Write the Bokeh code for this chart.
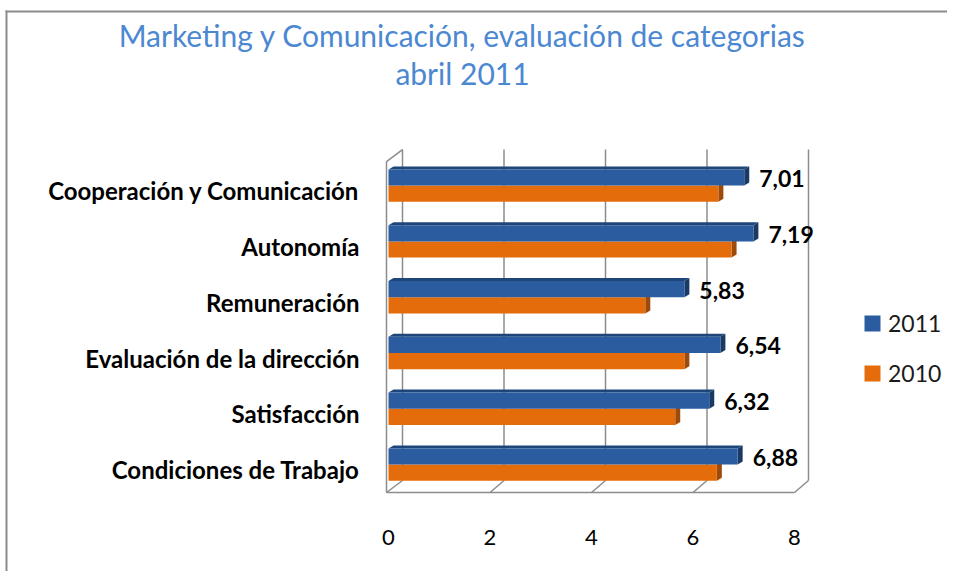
from bokeh.plotting import figure
from bokeh.models import Range1d, FixedTicker, Legend, LegendItem, Label
from bokeh.core.properties import value
from bokeh.embed import file_html
from bokeh.resources import INLINE

# ---------------- data ----------------
categories = ["Cooperación y Comunicación", "Autonomía", "Remuneración",
              "Evaluación de la dirección", "Satisfacción", "Condiciones de Trabajo"]
series_names = ["2011", "2010"]
values_2011 = [7.01, 7.19, 5.83, 6.54, 6.32, 6.88]
values_2010 = [6.50, 6.76, 5.06, 5.83, 5.65, 6.47]
tick_values = [0, 2, 4, 6, 8]
title_lines = ["Marketing y Comunicación, evaluación de categorias", "abril 2011"]

# ---------------- layout / style ----------------
W, H = 947, 571
FH = H
KX = 50.75              # px per value unit
KY = 55.8               # px per category band
X0 = 388                # canvas x of value 0
Y0 = 492                # canvas y of floor front
AXIS_Y = 508            # canvas y where the x-axis sits
BLUE, BLUE_TOP, BLUE_SIDE = "#2B5CA0", "#1F4678", "#1A3A66"
ORANGE, ORANGE_SIDE = "#E46C0A", "#9E4A0A"
GRID = "#8C8C8C"
FONT = value("Lato")

xs0, xs1 = -X0 / KX, (W - X0) / KX
ys0, ys1 = -(FH - Y0) / KY, Y0 / KY

p = figure(width=W, height=H, x_range=Range1d(xs0, xs1), y_range=Range1d(ys0, ys1),
           output_backend="svg", toolbar_location=None, y_axis_location=None,
           min_border_left=0, min_border_right=0, min_border_top=0, min_border_bottom=0)
p.grid.visible = False
p.outline_line_color = None
p.background_fill_color = "white"
p.border_fill_color = "white"

n = len(categories)
yc = [n - 1 - i + 0.5 for i in range(n)]
xmax = tick_values[-1]

# ---------- outer frame lines (left + top) ----------
p.line([xs0 + 6 / KX, xs0 + 6 / KX], [ys0, ys1 - 10 / KY], line_color=GRID, line_width=2)
p.line([xs0 + 5 / KX, xs1], [ys1 - 11 / KY, ys1 - 11 / KY], line_color=GRID, line_width=2)

# ---------- 3D box ----------
DX, DY = 14 / KX, 12 / KY
BOX_TOP = 5.93
LX = -2 / KX
for t in tick_values:
    p.line([t + DX, t + DX], [DY, BOX_TOP + DY], line_color=GRID, line_width=1.5)
    p.line([t if t > 0 else LX, t + DX], [0, DY], line_color=GRID, line_width=1.5)
p.line([LX, xmax], [0, 0], line_color=GRID, line_width=1.5)
p.line([LX, LX], [0, BOX_TOP], line_color=GRID, line_width=1.5)
p.line([LX, DX], [BOX_TOP, BOX_TOP + DY], line_color=GRID, line_width=1.5)

# ---------- bars ----------
BH = 0.29
DXB, DYB = 5 / KX, 3 / KY
y11 = [c + BH / 2 for c in yc]
y10 = [c - BH / 2 for c in yc]

def side_faces(vals, ys):
    xs_s, ys_s = [], []
    for v, y in zip(vals, ys):
        b, t = y - BH / 2, y + BH / 2
        xs_s.append([v, v, v + DXB, v + DXB])
        ys_s.append([b, t, t + DYB, b + DYB])
    return xs_s, ys_s

def top_faces(vals, ys):
    xs_s, ys_s = [], []
    for v, y in zip(vals, ys):
        t = y + BH / 2
        xs_s.append([0, v, v + DXB, DXB])
        ys_s.append([t, t, t + DYB, t + DYB])
    return xs_s, ys_s

sx, sy = side_faces(values_2010, y10)
p.patches(sx, sy, fill_color=ORANGE_SIDE, line_color=None)
r10 = p.hbar(y=y10, left=0, right=values_2010, height=BH, fill_color=ORANGE, line_color=None)

tx, ty = top_faces(values_2011, y11)
p.patches(tx, ty, fill_color=BLUE_TOP, line_color=None)
sx, sy = side_faces(values_2011, y11)
p.patches(sx, sy, fill_color=BLUE_SIDE, line_color=None)
r11 = p.hbar(y=y11, left=0, right=values_2011, height=BH, fill_color=BLUE, line_color=None)

# ---------- value labels ----------
p.text(x=[v + 15 / KX for v in values_2011], y=[y - 1 / KY for y in y11],
       text=[f"{v:.2f}".replace(".", ",") for v in values_2011],
       text_font=FONT, text_font_style="bold", text_font_size="23px",
       text_color="black", text_baseline="middle", text_align="left")

# ---------- category labels ----------
p.text(x=[-29 / KX] * n, y=[c - 5 / KY for c in yc], text=categories,
       text_font=FONT, text_font_style="bold", text_font_size="24px",
       text_color="black", text_baseline="middle", text_align="right")

# ---------- title ----------
title_y = [(Y0 - 34) / KY, (Y0 - 72) / KY]
for line, ty_ in zip(title_lines, title_y):
    p.add_layout(Label(x=(462 - X0) / KX, y=ty_, text=line, text_font="Lato",
                       text_font_size="30px", text_color="#4C88D2",
                       text_align="center", text_baseline="middle"))

# ---------- x axis ----------
ax = p.xaxis[0]
ax.fixed_location = (Y0 - AXIS_Y) / KY
ax.ticker = FixedTicker(ticks=tick_values)
ax.axis_line_color = None
ax.major_tick_line_color = None
ax.minor_tick_line_color = None
ax.major_label_standoff = 15
ax.major_label_text_font = "Lato"
ax.major_label_text_font_size = "22px"
ax.major_label_text_color = "black"

# ---------- legend ----------
legend = Legend(items=[LegendItem(label=series_names[0], renderers=[r11]),
                       LegendItem(label=series_names[1], renderers=[r10])],
                location=(862, FH - 387), orientation="vertical",
                glyph_width=20, glyph_height=20, label_height=20, spacing=22,
                label_standoff=6, padding=0, margin=0,
                border_line_color=None, background_fill_alpha=0,
                label_text_font="Lato", label_text_font_size="23px",
                label_text_color="#1A1A1A")
p.add_layout(legend)

open("out.html", "w").write(file_html(p, INLINE))
